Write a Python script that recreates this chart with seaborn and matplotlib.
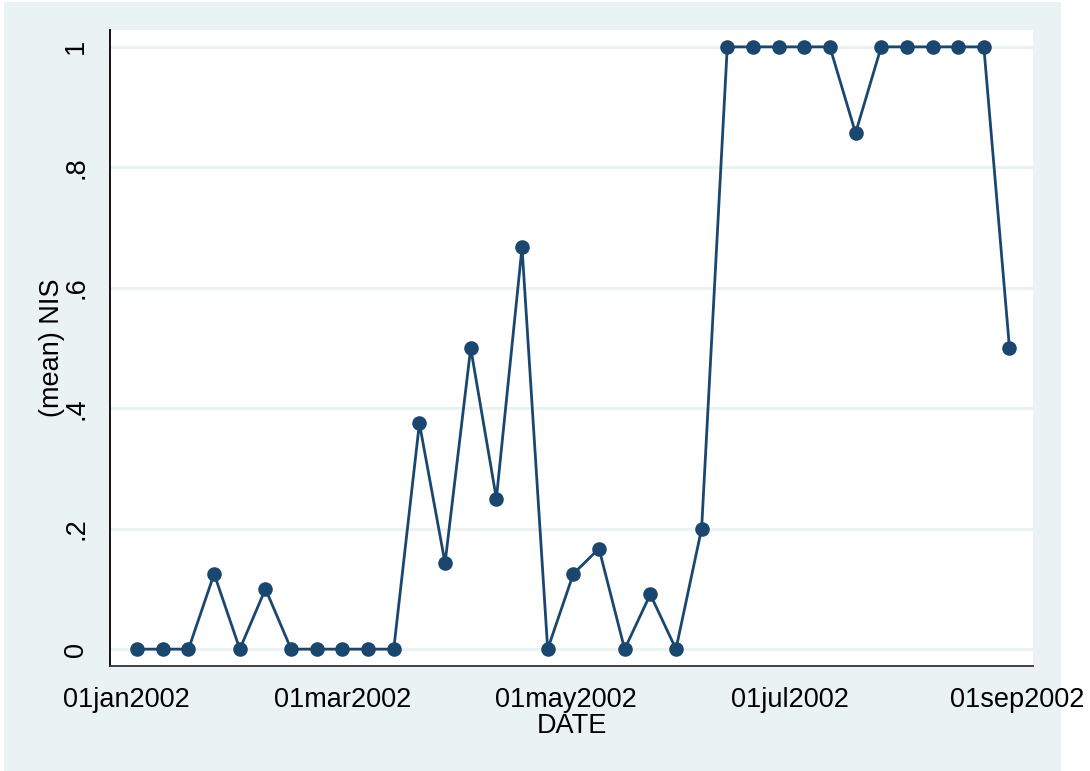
import numpy as np
import pandas as pd
import matplotlib
matplotlib.use("Agg")
import matplotlib.pyplot as plt
import seaborn as sns

start_date = "2002-01-04"
n_weeks = 35
nis_mean = [0, 0, 0, 0.125, 0, 0.1, 0, 0, 0, 0, 0, 0.375, 0.143, 0.5, 0.25,
            0.667, 0, 0.125, 0.167, 0, 0.091, 0, 0.2, 1, 1, 1, 1, 1, 0.857,
            1, 1, 1, 1, 1, 0.5]
xtick_dates = ["2002-01-01", "2002-03-01", "2002-05-01", "2002-07-01", "2002-09-01"]
xtick_labels = ["01jan2002", "01mar2002", "01may2002", "01jul2002", "01sep2002"]
yticks = [0, 0.2, 0.4, 0.6, 0.8, 1.0]
ytick_labels = ["0", ".2", ".4", ".6", ".8", "1"]

dates = pd.date_range(start_date, periods=n_weeks, freq="7D")
df = pd.DataFrame({"DATE": dates, "NIS": nis_mean})

sns.set_style("white")
plt.rcParams["font.family"] = ["Liberation Sans", "DejaVu Sans"]

W, H = 1090, 771
fig = plt.figure(figsize=(W / 100, H / 100), dpi=100, facecolor="white")
bg = fig.add_axes([4 / W, 0, (1061 - 4) / W, (771 - 2) / H], zorder=-5)
bg.set_facecolor("#EAF2F3")
bg.set_xticks([])
bg.set_yticks([])
for s in bg.spines.values():
    s.set_visible(False)

ax = fig.add_axes([110 / W, 1 - 666 / H, (1033 - 110) / W, (666 - 30) / H], zorder=1)
ax.set_facecolor("white")

navy = "#1A476F"
sns.lineplot(data=df, x="DATE", y="NIS", ax=ax, color=navy, linewidth=2.0,
             marker="o", markersize=10.5, markeredgewidth=0, zorder=3)

ax.set_ylim(-0.028, 1.028)
ax.set_xlim(pd.Timestamp("2001-12-27 14:00"), pd.Timestamp("2002-09-05 10:00"))
ax.set_yticks(yticks)
ax.set_yticklabels(ytick_labels, rotation=90, va="center")
ax.set_xticks(pd.to_datetime(xtick_dates))
ax.set_xticklabels(xtick_labels)
for y in yticks:
    ax.axhline(y, color="#EAF2F3", linewidth=2.2, zorder=1)

ax.tick_params(axis="both", direction="out", length=8, width=1.0, color="#222222",
               labelsize=19.5, labelcolor="black", pad=7)
for s in ["top", "right"]:
    ax.spines[s].set_visible(False)
ax.spines["left"].set_color("black")
ax.spines["left"].set_linewidth(1.3)
ax.spines["bottom"].set_color("#333333")
ax.spines["bottom"].set_linewidth(1.3)

ax.set_xlabel("DATE", fontsize=19.5, labelpad=0, color="black")
ax.set_ylabel("(mean) NIS", fontsize=19.5, labelpad=-1, color="black")

fig.savefig("out.png", dpi=100, facecolor="white")
